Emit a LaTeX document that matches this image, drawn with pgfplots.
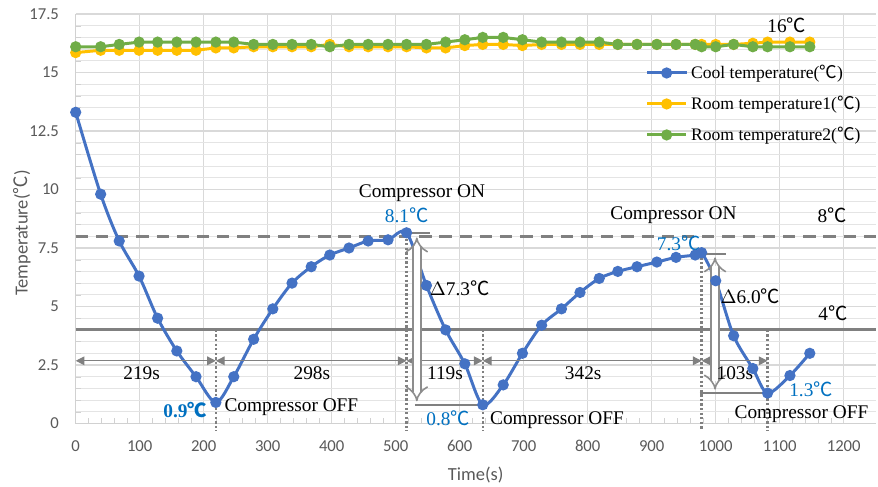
\documentclass[border=0pt]{standalone}
\usepackage{fontspec}
\setmainfont{Liberation Serif}
\newfontfamily\calibri{Carlito}
\newfontfamily\cjk{Noto Sans CJK SC}
\usepackage{pgfplots}
\usepackage{pgfplotstable}
\pgfplotsset{compat=1.18}
\usetikzlibrary{arrows.meta}
\definecolor{coolblue}{HTML}{4472C4}
\definecolor{roomyellow}{HTML}{FFC000}
\definecolor{roomgreen}{HTML}{70AD47}
\definecolor{txtblue}{HTML}{0070C0}
\definecolor{tickgray}{HTML}{595959}
\definecolor{gridgray}{HTML}{D9D9D9}
\definecolor{refgray}{HTML}{808080}
\newcommand{\dc}{{\cjk ℃}}

\pgfplotstableread{
t cool r1 r2
0 13.3 15.85 16.1
39 9.8 15.95 16.1
68 7.8 15.95 16.2
99 6.3 15.95 16.3
128 4.5 15.95 16.3
158 3.1 15.95 16.3
188 2.0 15.95 16.3
219 0.9 16.05 16.3
247 2.0 16.05 16.3
278 3.6 16.1 16.2
308 4.9 16.1 16.2
338 6.0 16.1 16.2
368 6.7 16.1 16.2
397 7.2 16.2 16.1
427 7.5 16.1 16.2
457 7.8 16.1 16.2
488 7.85 16.1 16.2
517 8.15 16.1 16.2
548 5.9 16.05 16.2
578 4.0 16.05 16.3
608 2.55 16.15 16.4
636 0.8 16.2 16.5
668 1.65 16.2 16.5
698 3.0 16.15 16.4
728 4.2 16.2 16.3
759 4.9 16.2 16.3
788 5.6 16.2 16.3
818 6.2 16.2 16.3
847 6.5 16.2 16.2
877 6.7 16.2 16.2
908 6.9 16.2 16.2
938 7.1 16.2 16.2
968 7.2 16.2 16.2
978 7.3 16.2 16.1
1000 6.1 16.2 16.1
1028 3.75 16.2 16.2
1058 2.35 16.25 16.1
1081 1.3 16.3 16.1
1116 2.05 16.3 16.1
1147 3.0 16.3 16.1
}\tempdata

\begin{document}
\begin{tikzpicture}
\path[use as bounding box] (-1.514cm,-1.25cm) rectangle (16.046cm,8.47cm);
\begin{axis}[
  at={(0,0)}, anchor=south west,
  scale only axis,
  width=16cm, height=8.19cm,
  xmin=0, xmax=1250, ymin=0, ymax=17.5,
  xtick={0,100,...,1200},
  ytick={0,2.5,...,17.5},
  minor y tick num=4,
  minor x tick num=4,
  xmajorgrids, ymajorgrids, yminorgrids,
  major grid style={gridgray, line width=0.6pt},
  minor grid style={gridgray!70, line width=0.5pt},
  axis x line*=bottom, axis y line*=left,
  axis line style={gridgray!120, line width=0.7pt, -},
  tick style={gridgray!120},
  major tick length=0pt,
  minor tick length=3pt,
  tick align=inside,
  /pgf/number format/assume math mode=true,
  /pgf/number format/fixed,
  /pgf/number format/1000 sep={},
  tick label style={font=\calibri\fontsize{9.5}{11}\selectfont, text=tickgray},
  xticklabel style={yshift=-6pt},
  yticklabel style={xshift=-6pt},
  xlabel={Time(s)},
  ylabel={Temperature(\dc)},
  label style={font=\calibri\fontsize{10.5}{12}\selectfont, text=tickgray},
  xlabel style={at={(axis description cs:0.5,-0.126)}, anchor=center},
  ylabel style={at={(axis description cs:-0.067,0.465)}, anchor=center},
  clip=false,
  legend cell align=left,
  legend style={at={(0.712,0.885)}, anchor=north west, draw=none, fill=none,
    font=\fontsize{10}{12}\selectfont, row sep=4.5pt, inner sep=0pt},
  legend image code/.code={\draw[mark repeat=2, mark phase=2]
    plot coordinates {(0cm,0cm) (0.39cm,0cm) (0.78cm,0cm)};},
]
% reference lines
\addplot[refgray, line width=1.7pt, dash pattern=on 7pt off 4.5pt, forget plot] coordinates {(0,8) (1250,8)};
\addplot[refgray, line width=1.7pt, forget plot] coordinates {(0,4) (1250,4)};

\addplot[coolblue, line width=1.7pt, smooth, mark=*, mark size=2.3pt] table[x=t, y=cool] {\tempdata};
\addlegendentry{Cool temperature(\dc)}
\addplot[roomyellow, line width=1.7pt, mark=*, mark size=2.3pt] table[x=t, y=r1] {\tempdata};
\addlegendentry{Room temperature1(\dc)}
\addplot[roomgreen, line width=1.7pt, mark=*, mark size=2.3pt] table[x=t, y=r2] {\tempdata};
\addlegendentry{Room temperature2(\dc)}

% dotted markers
\draw[refgray, line width=1.3pt, dash pattern=on 1.3pt off 1.3pt]
  (219,4) -- (219,-0.3)  (517,8.1) -- (517,-0.3)  (636,4) -- (636,-0.3)
  (978,7.3) -- (978,-0.3)  (1081,4) -- (1081,-0.3);

% interval arrows
\begin{scope}[refgray, line width=0.6pt, {Triangle[length=5pt,width=5pt]}-{Triangle[length=5pt,width=5pt]}]
\draw (0,2.68) -- (219,2.68);
\draw (219,2.68) -- (517,2.68);
\draw (517,2.68) -- (636,2.68);
\draw (636,2.68) -- (978,2.68);
\draw (978,2.68) -- (1081,2.68);
\end{scope}

% delta markers
\draw[refgray, line width=1.3pt] (515,8.13) -- (554,8.13) (530,0.8) -- (636,0.8);
\draw[refgray, line width=1.3pt] (975,7.25) -- (1016,7.25) (975,1.3) -- (1085,1.3);
\draw[refgray!90, line width=0.9pt, double=white, double distance=3.6pt, {Implies[scale=1.3]}-{Implies[scale=1.3]}] (533,7.95) -- (533,0.95);
\draw[refgray!90, line width=0.9pt, double=white, double distance=3.6pt, {Implies[scale=1.3]}-{Implies[scale=1.3]}] (999,7.1) -- (999,1.45);

% texts
\begin{scope}[font=\fontsize{11}{13}\selectfont]
\node at (1111,17.0) {16\dc};
\node at (1182,8.9) {8\dc};
\node at (1183,4.7) {4\dc};
\node at (541,9.84) {Compressor ON};
\node at (934,8.9) {Compressor ON};
\node[text=txtblue] at (517,8.9) {8.1\dc};
\node[text=txtblue] at (942,7.7) {7.3\dc};
\node[text=txtblue, font=\bfseries\fontsize{11}{13}\selectfont] at (171,0.58) {0.9\dc};
\node[text=txtblue] at (582,0.22) {0.8\dc};
\node[text=txtblue] at (1149,1.45) {1.3\dc};
\node at (600,5.78) {$\Delta$7.3\dc};
\node at (1054,5.42) {$\Delta$6.0\dc};
\node at (337,0.7) {Compressor OFF};
\node at (752,0.15) {Compressor OFF};
\node at (1134,0.42) {Compressor OFF};
\node at (103,2.15) {219s};
\node at (369,2.15) {298s};
\node at (577,2.15) {119s};
\node at (793,2.15) {342s};
\node at (1030,2.15) {103s};
\end{scope}
\end{axis}
\end{tikzpicture}
\end{document}
